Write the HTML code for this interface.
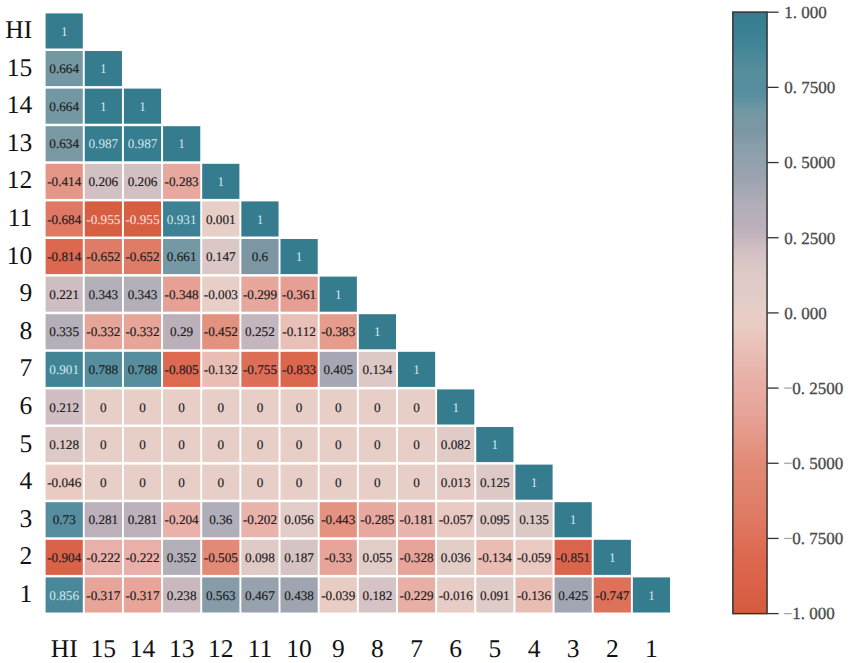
<!DOCTYPE html><html><head><meta charset="utf-8"><style>html,body{margin:0;padding:0;background:#fff;}body{width:850px;height:663px;overflow:hidden;}svg{display:block;text-rendering:geometricPrecision;}</style></head><body>
<svg width="850" height="663" viewBox="0 0 850 663">
<rect width="850" height="663" fill="#ffffff"/>
<g><rect x="45.60" y="13.40" width="37.20" height="35.10" fill="#347c8e"/><rect x="45.60" y="51.00" width="37.20" height="35.10" fill="#7398a4"/><rect x="84.75" y="51.00" width="37.20" height="35.10" fill="#347c8e"/><rect x="45.60" y="88.60" width="37.20" height="35.10" fill="#7398a4"/><rect x="84.75" y="88.60" width="37.20" height="35.10" fill="#347c8e"/><rect x="123.90" y="88.60" width="37.20" height="35.10" fill="#347c8e"/><rect x="45.60" y="126.20" width="37.20" height="35.10" fill="#7898a4"/><rect x="84.75" y="126.20" width="37.20" height="35.10" fill="#367d8f"/><rect x="123.90" y="126.20" width="37.20" height="35.10" fill="#367d8f"/><rect x="163.05" y="126.20" width="37.20" height="35.10" fill="#347c8e"/><rect x="45.60" y="163.80" width="37.20" height="35.10" fill="#e59787"/><rect x="84.75" y="163.80" width="37.20" height="35.10" fill="#d2c0c3"/><rect x="123.90" y="163.80" width="37.20" height="35.10" fill="#d2c0c3"/><rect x="163.05" y="163.80" width="37.20" height="35.10" fill="#e7a99f"/><rect x="202.20" y="163.80" width="37.20" height="35.10" fill="#347c8e"/><rect x="45.60" y="201.40" width="37.20" height="35.10" fill="#df7963"/><rect x="84.75" y="201.40" width="37.20" height="35.10" fill="#d85e42"/><rect x="123.90" y="201.40" width="37.20" height="35.10" fill="#d85e42"/><rect x="163.05" y="201.40" width="37.20" height="35.10" fill="#3c8294"/><rect x="202.20" y="201.40" width="37.20" height="35.10" fill="#e7cec7"/><rect x="241.35" y="201.40" width="37.20" height="35.10" fill="#347c8e"/><rect x="45.60" y="239.00" width="37.20" height="35.10" fill="#dc684f"/><rect x="84.75" y="239.00" width="37.20" height="35.10" fill="#df7c67"/><rect x="123.90" y="239.00" width="37.20" height="35.10" fill="#df7c67"/><rect x="163.05" y="239.00" width="37.20" height="35.10" fill="#7599a4"/><rect x="202.20" y="239.00" width="37.20" height="35.10" fill="#dbc8c6"/><rect x="241.35" y="239.00" width="37.20" height="35.10" fill="#7c97a3"/><rect x="280.50" y="239.00" width="37.20" height="35.10" fill="#347c8e"/><rect x="45.60" y="276.60" width="37.20" height="35.10" fill="#cebdc1"/><rect x="84.75" y="276.60" width="37.20" height="35.10" fill="#b3afb9"/><rect x="123.90" y="276.60" width="37.20" height="35.10" fill="#b3afb9"/><rect x="163.05" y="276.60" width="37.20" height="35.10" fill="#e7a194"/><rect x="202.20" y="276.60" width="37.20" height="35.10" fill="#e7cec7"/><rect x="241.35" y="276.60" width="37.20" height="35.10" fill="#e7a79d"/><rect x="280.50" y="276.60" width="37.20" height="35.10" fill="#e69f92"/><rect x="319.65" y="276.60" width="37.20" height="35.10" fill="#347c8e"/><rect x="45.60" y="314.20" width="37.20" height="35.10" fill="#b4afb9"/><rect x="84.75" y="314.20" width="37.20" height="35.10" fill="#e7a498"/><rect x="123.90" y="314.20" width="37.20" height="35.10" fill="#e7a498"/><rect x="163.05" y="314.20" width="37.20" height="35.10" fill="#bbb0ba"/><rect x="202.20" y="314.20" width="37.20" height="35.10" fill="#e49280"/><rect x="241.35" y="314.20" width="37.20" height="35.10" fill="#c4b6be"/><rect x="280.50" y="314.20" width="37.20" height="35.10" fill="#e9c0b7"/><rect x="319.65" y="314.20" width="37.20" height="35.10" fill="#e69c8d"/><rect x="358.80" y="314.20" width="37.20" height="35.10" fill="#347c8e"/><rect x="45.60" y="351.80" width="37.20" height="35.10" fill="#408496"/><rect x="84.75" y="351.80" width="37.20" height="35.10" fill="#568e9d"/><rect x="123.90" y="351.80" width="37.20" height="35.10" fill="#568e9d"/><rect x="163.05" y="351.80" width="37.20" height="35.10" fill="#dc6950"/><rect x="202.20" y="351.80" width="37.20" height="35.10" fill="#e9bdb4"/><rect x="241.35" y="351.80" width="37.20" height="35.10" fill="#dd6f58"/><rect x="280.50" y="351.80" width="37.20" height="35.10" fill="#db674d"/><rect x="319.65" y="351.80" width="37.20" height="35.10" fill="#a5a8b4"/><rect x="358.80" y="351.80" width="37.20" height="35.10" fill="#dcc9c6"/><rect x="397.95" y="351.80" width="37.20" height="35.10" fill="#347c8e"/><rect x="45.60" y="389.40" width="37.20" height="35.10" fill="#d0bec2"/><rect x="84.75" y="389.40" width="37.20" height="35.10" fill="#e7cec7"/><rect x="123.90" y="389.40" width="37.20" height="35.10" fill="#e7cec7"/><rect x="163.05" y="389.40" width="37.20" height="35.10" fill="#e7cec7"/><rect x="202.20" y="389.40" width="37.20" height="35.10" fill="#e7cec7"/><rect x="241.35" y="389.40" width="37.20" height="35.10" fill="#e7cec7"/><rect x="280.50" y="389.40" width="37.20" height="35.10" fill="#e7cec7"/><rect x="319.65" y="389.40" width="37.20" height="35.10" fill="#e7cec7"/><rect x="358.80" y="389.40" width="37.20" height="35.10" fill="#e7cec7"/><rect x="397.95" y="389.40" width="37.20" height="35.10" fill="#e7cec7"/><rect x="437.10" y="389.40" width="37.20" height="35.10" fill="#347c8e"/><rect x="45.60" y="427.00" width="37.20" height="35.10" fill="#ddc9c6"/><rect x="84.75" y="427.00" width="37.20" height="35.10" fill="#e7cec7"/><rect x="123.90" y="427.00" width="37.20" height="35.10" fill="#e7cec7"/><rect x="163.05" y="427.00" width="37.20" height="35.10" fill="#e7cec7"/><rect x="202.20" y="427.00" width="37.20" height="35.10" fill="#e7cec7"/><rect x="241.35" y="427.00" width="37.20" height="35.10" fill="#e7cec7"/><rect x="280.50" y="427.00" width="37.20" height="35.10" fill="#e7cec7"/><rect x="319.65" y="427.00" width="37.20" height="35.10" fill="#e7cec7"/><rect x="358.80" y="427.00" width="37.20" height="35.10" fill="#e7cec7"/><rect x="397.95" y="427.00" width="37.20" height="35.10" fill="#e7cec7"/><rect x="437.10" y="427.00" width="37.20" height="35.10" fill="#e0cbc7"/><rect x="476.25" y="427.00" width="37.20" height="35.10" fill="#347c8e"/><rect x="45.60" y="464.60" width="37.20" height="35.10" fill="#e9cbc3"/><rect x="84.75" y="464.60" width="37.20" height="35.10" fill="#e7cec7"/><rect x="123.90" y="464.60" width="37.20" height="35.10" fill="#e7cec7"/><rect x="163.05" y="464.60" width="37.20" height="35.10" fill="#e7cec7"/><rect x="202.20" y="464.60" width="37.20" height="35.10" fill="#e7cec7"/><rect x="241.35" y="464.60" width="37.20" height="35.10" fill="#e7cec7"/><rect x="280.50" y="464.60" width="37.20" height="35.10" fill="#e7cec7"/><rect x="319.65" y="464.60" width="37.20" height="35.10" fill="#e7cec7"/><rect x="358.80" y="464.60" width="37.20" height="35.10" fill="#e7cec7"/><rect x="397.95" y="464.60" width="37.20" height="35.10" fill="#e7cec7"/><rect x="437.10" y="464.60" width="37.20" height="35.10" fill="#e6cdc7"/><rect x="476.25" y="464.60" width="37.20" height="35.10" fill="#ddcac6"/><rect x="515.40" y="464.60" width="37.20" height="35.10" fill="#347c8e"/><rect x="45.60" y="502.20" width="37.20" height="35.10" fill="#568ea0"/><rect x="84.75" y="502.20" width="37.20" height="35.10" fill="#bcb0ba"/><rect x="123.90" y="502.20" width="37.20" height="35.10" fill="#bcb0ba"/><rect x="163.05" y="502.20" width="37.20" height="35.10" fill="#e8b2aa"/><rect x="202.20" y="502.20" width="37.20" height="35.10" fill="#b0aeb8"/><rect x="241.35" y="502.20" width="37.20" height="35.10" fill="#e8b3ab"/><rect x="280.50" y="502.20" width="37.20" height="35.10" fill="#e2ccc7"/><rect x="319.65" y="502.20" width="37.20" height="35.10" fill="#e49381"/><rect x="358.80" y="502.20" width="37.20" height="35.10" fill="#e7a99f"/><rect x="397.95" y="502.20" width="37.20" height="35.10" fill="#e8b6ae"/><rect x="437.10" y="502.20" width="37.20" height="35.10" fill="#e9cac2"/><rect x="476.25" y="502.20" width="37.20" height="35.10" fill="#dfcac6"/><rect x="515.40" y="502.20" width="37.20" height="35.10" fill="#dcc9c6"/><rect x="554.55" y="502.20" width="37.20" height="35.10" fill="#347c8e"/><rect x="45.60" y="539.80" width="37.20" height="35.10" fill="#da6248"/><rect x="84.75" y="539.80" width="37.20" height="35.10" fill="#e8b0a8"/><rect x="123.90" y="539.80" width="37.20" height="35.10" fill="#e8b0a8"/><rect x="163.05" y="539.80" width="37.20" height="35.10" fill="#b2afb9"/><rect x="202.20" y="539.80" width="37.20" height="35.10" fill="#e28a76"/><rect x="241.35" y="539.80" width="37.20" height="35.10" fill="#dfcac6"/><rect x="280.50" y="539.80" width="37.20" height="35.10" fill="#d6c3c4"/><rect x="319.65" y="539.80" width="37.20" height="35.10" fill="#e7a498"/><rect x="358.80" y="539.80" width="37.20" height="35.10" fill="#e2ccc7"/><rect x="397.95" y="539.80" width="37.20" height="35.10" fill="#e7a498"/><rect x="437.10" y="539.80" width="37.20" height="35.10" fill="#e3cdc7"/><rect x="476.25" y="539.80" width="37.20" height="35.10" fill="#e9bdb4"/><rect x="515.40" y="539.80" width="37.20" height="35.10" fill="#e9c9c1"/><rect x="554.55" y="539.80" width="37.20" height="35.10" fill="#db654c"/><rect x="593.70" y="539.80" width="37.20" height="35.10" fill="#347c8e"/><rect x="45.60" y="577.40" width="37.20" height="35.10" fill="#4a8899"/><rect x="84.75" y="577.40" width="37.20" height="35.10" fill="#e7a59a"/><rect x="123.90" y="577.40" width="37.20" height="35.10" fill="#e7a59a"/><rect x="163.05" y="577.40" width="37.20" height="35.10" fill="#c9b9bf"/><rect x="202.20" y="577.40" width="37.20" height="35.10" fill="#869da9"/><rect x="241.35" y="577.40" width="37.20" height="35.10" fill="#98a2ae"/><rect x="280.50" y="577.40" width="37.20" height="35.10" fill="#9ea4b0"/><rect x="319.65" y="577.40" width="37.20" height="35.10" fill="#e9ccc4"/><rect x="358.80" y="577.40" width="37.20" height="35.10" fill="#d6c3c5"/><rect x="397.95" y="577.40" width="37.20" height="35.10" fill="#e8afa7"/><rect x="437.10" y="577.40" width="37.20" height="35.10" fill="#e8cdc6"/><rect x="476.25" y="577.40" width="37.20" height="35.10" fill="#dfcbc7"/><rect x="515.40" y="577.40" width="37.20" height="35.10" fill="#e9bdb4"/><rect x="554.55" y="577.40" width="37.20" height="35.10" fill="#a1a6b2"/><rect x="593.70" y="577.40" width="37.20" height="35.10" fill="#dd7159"/><rect x="632.85" y="577.40" width="37.20" height="35.10" fill="#347c8e"/></g>
<g font-family="Liberation Serif" font-size="13.2" text-anchor="middle" stroke-width="0.18"><text x="64.20" y="35.65" fill="#d2e8ee" stroke="none">1</text><text x="64.20" y="73.25" fill="#1e1e1e" stroke="#1e1e1e">0.664</text><text x="103.35" y="73.25" fill="#d2e8ee" stroke="none">1</text><text x="64.20" y="110.85" fill="#1e1e1e" stroke="#1e1e1e">0.664</text><text x="103.35" y="110.85" fill="#d2e8ee" stroke="none">1</text><text x="142.50" y="110.85" fill="#d2e8ee" stroke="none">1</text><text x="64.20" y="148.45" fill="#1e1e1e" stroke="#1e1e1e">0.634</text><text x="103.35" y="148.45" fill="#d2e8ee" stroke="none">0.987</text><text x="142.50" y="148.45" fill="#d2e8ee" stroke="none">0.987</text><text x="181.65" y="148.45" fill="#d2e8ee" stroke="none">1</text><text x="64.20" y="186.05" fill="#1e1e1e" stroke="#1e1e1e">-0.414</text><text x="103.35" y="186.05" fill="#1e1e1e" stroke="#1e1e1e">0.206</text><text x="142.50" y="186.05" fill="#1e1e1e" stroke="#1e1e1e">0.206</text><text x="181.65" y="186.05" fill="#1e1e1e" stroke="#1e1e1e">-0.283</text><text x="220.80" y="186.05" fill="#d2e8ee" stroke="none">1</text><text x="64.20" y="223.65" fill="#1e1e1e" stroke="#1e1e1e">-0.684</text><text x="103.35" y="223.65" fill="#f6e6e0" stroke="none">-0.955</text><text x="142.50" y="223.65" fill="#f6e6e0" stroke="none">-0.955</text><text x="181.65" y="223.65" fill="#d2e8ee" stroke="none">0.931</text><text x="220.80" y="223.65" fill="#1e1e1e" stroke="#1e1e1e">0.001</text><text x="259.95" y="223.65" fill="#d2e8ee" stroke="none">1</text><text x="64.20" y="261.25" fill="#1e1e1e" stroke="#1e1e1e">-0.814</text><text x="103.35" y="261.25" fill="#1e1e1e" stroke="#1e1e1e">-0.652</text><text x="142.50" y="261.25" fill="#1e1e1e" stroke="#1e1e1e">-0.652</text><text x="181.65" y="261.25" fill="#1e1e1e" stroke="#1e1e1e">0.661</text><text x="220.80" y="261.25" fill="#1e1e1e" stroke="#1e1e1e">0.147</text><text x="259.95" y="261.25" fill="#1e1e1e" stroke="#1e1e1e">0.6</text><text x="299.10" y="261.25" fill="#d2e8ee" stroke="none">1</text><text x="64.20" y="298.85" fill="#1e1e1e" stroke="#1e1e1e">0.221</text><text x="103.35" y="298.85" fill="#1e1e1e" stroke="#1e1e1e">0.343</text><text x="142.50" y="298.85" fill="#1e1e1e" stroke="#1e1e1e">0.343</text><text x="181.65" y="298.85" fill="#1e1e1e" stroke="#1e1e1e">-0.348</text><text x="220.80" y="298.85" fill="#1e1e1e" stroke="#1e1e1e">-0.003</text><text x="259.95" y="298.85" fill="#1e1e1e" stroke="#1e1e1e">-0.299</text><text x="299.10" y="298.85" fill="#1e1e1e" stroke="#1e1e1e">-0.361</text><text x="338.25" y="298.85" fill="#d2e8ee" stroke="none">1</text><text x="64.20" y="336.45" fill="#1e1e1e" stroke="#1e1e1e">0.335</text><text x="103.35" y="336.45" fill="#1e1e1e" stroke="#1e1e1e">-0.332</text><text x="142.50" y="336.45" fill="#1e1e1e" stroke="#1e1e1e">-0.332</text><text x="181.65" y="336.45" fill="#1e1e1e" stroke="#1e1e1e">0.29</text><text x="220.80" y="336.45" fill="#1e1e1e" stroke="#1e1e1e">-0.452</text><text x="259.95" y="336.45" fill="#1e1e1e" stroke="#1e1e1e">0.252</text><text x="299.10" y="336.45" fill="#1e1e1e" stroke="#1e1e1e">-0.112</text><text x="338.25" y="336.45" fill="#1e1e1e" stroke="#1e1e1e">-0.383</text><text x="377.40" y="336.45" fill="#d2e8ee" stroke="none">1</text><text x="64.20" y="374.05" fill="#d2e8ee" stroke="none">0.901</text><text x="103.35" y="374.05" fill="#1e1e1e" stroke="#1e1e1e">0.788</text><text x="142.50" y="374.05" fill="#1e1e1e" stroke="#1e1e1e">0.788</text><text x="181.65" y="374.05" fill="#1e1e1e" stroke="#1e1e1e">-0.805</text><text x="220.80" y="374.05" fill="#1e1e1e" stroke="#1e1e1e">-0.132</text><text x="259.95" y="374.05" fill="#1e1e1e" stroke="#1e1e1e">-0.755</text><text x="299.10" y="374.05" fill="#1e1e1e" stroke="#1e1e1e">-0.833</text><text x="338.25" y="374.05" fill="#1e1e1e" stroke="#1e1e1e">0.405</text><text x="377.40" y="374.05" fill="#1e1e1e" stroke="#1e1e1e">0.134</text><text x="416.55" y="374.05" fill="#d2e8ee" stroke="none">1</text><text x="64.20" y="411.65" fill="#1e1e1e" stroke="#1e1e1e">0.212</text><text x="103.35" y="411.65" fill="#1e1e1e" stroke="#1e1e1e">0</text><text x="142.50" y="411.65" fill="#1e1e1e" stroke="#1e1e1e">0</text><text x="181.65" y="411.65" fill="#1e1e1e" stroke="#1e1e1e">0</text><text x="220.80" y="411.65" fill="#1e1e1e" stroke="#1e1e1e">0</text><text x="259.95" y="411.65" fill="#1e1e1e" stroke="#1e1e1e">0</text><text x="299.10" y="411.65" fill="#1e1e1e" stroke="#1e1e1e">0</text><text x="338.25" y="411.65" fill="#1e1e1e" stroke="#1e1e1e">0</text><text x="377.40" y="411.65" fill="#1e1e1e" stroke="#1e1e1e">0</text><text x="416.55" y="411.65" fill="#1e1e1e" stroke="#1e1e1e">0</text><text x="455.70" y="411.65" fill="#d2e8ee" stroke="none">1</text><text x="64.20" y="449.25" fill="#1e1e1e" stroke="#1e1e1e">0.128</text><text x="103.35" y="449.25" fill="#1e1e1e" stroke="#1e1e1e">0</text><text x="142.50" y="449.25" fill="#1e1e1e" stroke="#1e1e1e">0</text><text x="181.65" y="449.25" fill="#1e1e1e" stroke="#1e1e1e">0</text><text x="220.80" y="449.25" fill="#1e1e1e" stroke="#1e1e1e">0</text><text x="259.95" y="449.25" fill="#1e1e1e" stroke="#1e1e1e">0</text><text x="299.10" y="449.25" fill="#1e1e1e" stroke="#1e1e1e">0</text><text x="338.25" y="449.25" fill="#1e1e1e" stroke="#1e1e1e">0</text><text x="377.40" y="449.25" fill="#1e1e1e" stroke="#1e1e1e">0</text><text x="416.55" y="449.25" fill="#1e1e1e" stroke="#1e1e1e">0</text><text x="455.70" y="449.25" fill="#1e1e1e" stroke="#1e1e1e">0.082</text><text x="494.85" y="449.25" fill="#d2e8ee" stroke="none">1</text><text x="64.20" y="486.85" fill="#1e1e1e" stroke="#1e1e1e">-0.046</text><text x="103.35" y="486.85" fill="#1e1e1e" stroke="#1e1e1e">0</text><text x="142.50" y="486.85" fill="#1e1e1e" stroke="#1e1e1e">0</text><text x="181.65" y="486.85" fill="#1e1e1e" stroke="#1e1e1e">0</text><text x="220.80" y="486.85" fill="#1e1e1e" stroke="#1e1e1e">0</text><text x="259.95" y="486.85" fill="#1e1e1e" stroke="#1e1e1e">0</text><text x="299.10" y="486.85" fill="#1e1e1e" stroke="#1e1e1e">0</text><text x="338.25" y="486.85" fill="#1e1e1e" stroke="#1e1e1e">0</text><text x="377.40" y="486.85" fill="#1e1e1e" stroke="#1e1e1e">0</text><text x="416.55" y="486.85" fill="#1e1e1e" stroke="#1e1e1e">0</text><text x="455.70" y="486.85" fill="#1e1e1e" stroke="#1e1e1e">0.013</text><text x="494.85" y="486.85" fill="#1e1e1e" stroke="#1e1e1e">0.125</text><text x="534.00" y="486.85" fill="#d2e8ee" stroke="none">1</text><text x="64.20" y="524.45" fill="#1e1e1e" stroke="#1e1e1e">0.73</text><text x="103.35" y="524.45" fill="#1e1e1e" stroke="#1e1e1e">0.281</text><text x="142.50" y="524.45" fill="#1e1e1e" stroke="#1e1e1e">0.281</text><text x="181.65" y="524.45" fill="#1e1e1e" stroke="#1e1e1e">-0.204</text><text x="220.80" y="524.45" fill="#1e1e1e" stroke="#1e1e1e">0.36</text><text x="259.95" y="524.45" fill="#1e1e1e" stroke="#1e1e1e">-0.202</text><text x="299.10" y="524.45" fill="#1e1e1e" stroke="#1e1e1e">0.056</text><text x="338.25" y="524.45" fill="#1e1e1e" stroke="#1e1e1e">-0.443</text><text x="377.40" y="524.45" fill="#1e1e1e" stroke="#1e1e1e">-0.285</text><text x="416.55" y="524.45" fill="#1e1e1e" stroke="#1e1e1e">-0.181</text><text x="455.70" y="524.45" fill="#1e1e1e" stroke="#1e1e1e">-0.057</text><text x="494.85" y="524.45" fill="#1e1e1e" stroke="#1e1e1e">0.095</text><text x="534.00" y="524.45" fill="#1e1e1e" stroke="#1e1e1e">0.135</text><text x="573.15" y="524.45" fill="#d2e8ee" stroke="none">1</text><text x="64.20" y="562.05" fill="#1e1e1e" stroke="#1e1e1e">-0.904</text><text x="103.35" y="562.05" fill="#1e1e1e" stroke="#1e1e1e">-0.222</text><text x="142.50" y="562.05" fill="#1e1e1e" stroke="#1e1e1e">-0.222</text><text x="181.65" y="562.05" fill="#1e1e1e" stroke="#1e1e1e">0.352</text><text x="220.80" y="562.05" fill="#1e1e1e" stroke="#1e1e1e">-0.505</text><text x="259.95" y="562.05" fill="#1e1e1e" stroke="#1e1e1e">0.098</text><text x="299.10" y="562.05" fill="#1e1e1e" stroke="#1e1e1e">0.187</text><text x="338.25" y="562.05" fill="#1e1e1e" stroke="#1e1e1e">-0.33</text><text x="377.40" y="562.05" fill="#1e1e1e" stroke="#1e1e1e">0.055</text><text x="416.55" y="562.05" fill="#1e1e1e" stroke="#1e1e1e">-0.328</text><text x="455.70" y="562.05" fill="#1e1e1e" stroke="#1e1e1e">0.036</text><text x="494.85" y="562.05" fill="#1e1e1e" stroke="#1e1e1e">-0.134</text><text x="534.00" y="562.05" fill="#1e1e1e" stroke="#1e1e1e">-0.059</text><text x="573.15" y="562.05" fill="#1e1e1e" stroke="#1e1e1e">-0.851</text><text x="612.30" y="562.05" fill="#d2e8ee" stroke="none">1</text><text x="64.20" y="599.65" fill="#d2e8ee" stroke="none">0.856</text><text x="103.35" y="599.65" fill="#1e1e1e" stroke="#1e1e1e">-0.317</text><text x="142.50" y="599.65" fill="#1e1e1e" stroke="#1e1e1e">-0.317</text><text x="181.65" y="599.65" fill="#1e1e1e" stroke="#1e1e1e">0.238</text><text x="220.80" y="599.65" fill="#1e1e1e" stroke="#1e1e1e">0.563</text><text x="259.95" y="599.65" fill="#1e1e1e" stroke="#1e1e1e">0.467</text><text x="299.10" y="599.65" fill="#1e1e1e" stroke="#1e1e1e">0.438</text><text x="338.25" y="599.65" fill="#1e1e1e" stroke="#1e1e1e">-0.039</text><text x="377.40" y="599.65" fill="#1e1e1e" stroke="#1e1e1e">0.182</text><text x="416.55" y="599.65" fill="#1e1e1e" stroke="#1e1e1e">-0.229</text><text x="455.70" y="599.65" fill="#1e1e1e" stroke="#1e1e1e">-0.016</text><text x="494.85" y="599.65" fill="#1e1e1e" stroke="#1e1e1e">0.091</text><text x="534.00" y="599.65" fill="#1e1e1e" stroke="#1e1e1e">-0.136</text><text x="573.15" y="599.65" fill="#1e1e1e" stroke="#1e1e1e">0.425</text><text x="612.30" y="599.65" fill="#1e1e1e" stroke="#1e1e1e">-0.747</text><text x="651.45" y="599.65" fill="#d2e8ee" stroke="none">1</text></g>
<g font-family="Liberation Serif" font-size="25.5" text-anchor="end" fill="#111111"><text x="32.20" y="38.00">HI</text><text x="32.20" y="75.60">15</text><text x="32.20" y="113.20">14</text><text x="32.20" y="150.80">13</text><text x="32.20" y="188.40">12</text><text x="32.20" y="226.00">11</text><text x="32.20" y="263.60">10</text><text x="32.20" y="301.20">9</text><text x="32.20" y="338.80">8</text><text x="32.20" y="376.40">7</text><text x="32.20" y="414.00">6</text><text x="32.20" y="451.60">5</text><text x="32.20" y="489.20">4</text><text x="32.20" y="526.80">3</text><text x="32.20" y="564.40">2</text><text x="32.20" y="602.00">1</text></g>
<g font-family="Liberation Serif" font-size="25.5" text-anchor="middle" fill="#111111"><text x="64.20" y="656.80">HI</text><text x="103.35" y="656.80">15</text><text x="142.50" y="656.80">14</text><text x="181.65" y="656.80">13</text><text x="220.80" y="656.80">12</text><text x="259.95" y="656.80">11</text><text x="299.10" y="656.80">10</text><text x="338.25" y="656.80">9</text><text x="377.40" y="656.80">8</text><text x="416.55" y="656.80">7</text><text x="455.70" y="656.80">6</text><text x="494.85" y="656.80">5</text><text x="534.00" y="656.80">4</text><text x="573.15" y="656.80">3</text><text x="612.30" y="656.80">2</text><text x="651.45" y="656.80">1</text></g>
<defs><linearGradient id="g" x1="0" y1="0" x2="0" y2="1"><stop offset="0.0000" stop-color="#347c8e"/><stop offset="0.0500" stop-color="#408496"/><stop offset="0.1000" stop-color="#568e9c"/><stop offset="0.1350" stop-color="#568ea0"/><stop offset="0.1700" stop-color="#7599a4"/><stop offset="0.2000" stop-color="#7c97a3"/><stop offset="0.2200" stop-color="#879eaa"/><stop offset="0.2750" stop-color="#9ba3af"/><stop offset="0.3250" stop-color="#b2afb9"/><stop offset="0.3600" stop-color="#bcb0ba"/><stop offset="0.4000" stop-color="#d4c1c4"/><stop offset="0.4300" stop-color="#dcc9c6"/><stop offset="0.4750" stop-color="#e2ccc7"/><stop offset="0.5000" stop-color="#e7cec7"/><stop offset="0.5250" stop-color="#e9cbc3"/><stop offset="0.5500" stop-color="#e9c2b9"/><stop offset="0.6100" stop-color="#e8b0a8"/><stop offset="0.6650" stop-color="#e7a498"/><stop offset="0.7250" stop-color="#e49280"/><stop offset="0.7500" stop-color="#e28a76"/><stop offset="0.8400" stop-color="#df7a64"/><stop offset="0.9000" stop-color="#dc6950"/><stop offset="0.9500" stop-color="#da6248"/><stop offset="1.0000" stop-color="#d65a3e"/></linearGradient></defs>
<rect x="732.85" y="12.05" width="34.20" height="601.60" fill="url(#g)" stroke="#333333" stroke-width="1.5"/>
<g font-family="Liberation Serif" font-size="17" fill="#4a4a4a" stroke="#4a4a4a" stroke-width="0.3"><line x1="767.30" y1="12.20" x2="778.60" y2="12.20" stroke="#333333" stroke-width="1.3"/><text x="784.30" y="18.00" xml:space="preserve">1. 000</text><line x1="767.30" y1="87.38" x2="778.60" y2="87.38" stroke="#333333" stroke-width="1.3"/><text x="784.30" y="93.17" xml:space="preserve">0. 7500</text><line x1="767.30" y1="162.55" x2="778.60" y2="162.55" stroke="#333333" stroke-width="1.3"/><text x="784.30" y="168.35" xml:space="preserve">0. 5000</text><line x1="767.30" y1="237.72" x2="778.60" y2="237.72" stroke="#333333" stroke-width="1.3"/><text x="784.30" y="243.52" xml:space="preserve">0. 2500</text><line x1="767.30" y1="312.90" x2="778.60" y2="312.90" stroke="#333333" stroke-width="1.3"/><text x="784.30" y="318.70" xml:space="preserve">0. 000</text><line x1="767.30" y1="388.07" x2="778.60" y2="388.07" stroke="#333333" stroke-width="1.3"/><text x="792.20" y="393.88" xml:space="preserve">0. 2500</text><line x1="784.10" y1="388.07" x2="791.80" y2="388.07" stroke="#a0a0a0" stroke-width="1.2"/><line x1="767.30" y1="463.25" x2="778.60" y2="463.25" stroke="#333333" stroke-width="1.3"/><text x="792.20" y="469.05" xml:space="preserve">0. 5000</text><line x1="784.10" y1="463.25" x2="791.80" y2="463.25" stroke="#a0a0a0" stroke-width="1.2"/><line x1="767.30" y1="538.43" x2="778.60" y2="538.43" stroke="#333333" stroke-width="1.3"/><text x="792.20" y="544.23" xml:space="preserve">0. 7500</text><line x1="784.10" y1="538.43" x2="791.80" y2="538.43" stroke="#a0a0a0" stroke-width="1.2"/><line x1="767.30" y1="613.60" x2="778.60" y2="613.60" stroke="#333333" stroke-width="1.3"/><text x="792.20" y="619.40" xml:space="preserve">1. 000</text><line x1="784.10" y1="613.60" x2="791.80" y2="613.60" stroke="#a0a0a0" stroke-width="1.2"/></g>
</svg></body></html>
